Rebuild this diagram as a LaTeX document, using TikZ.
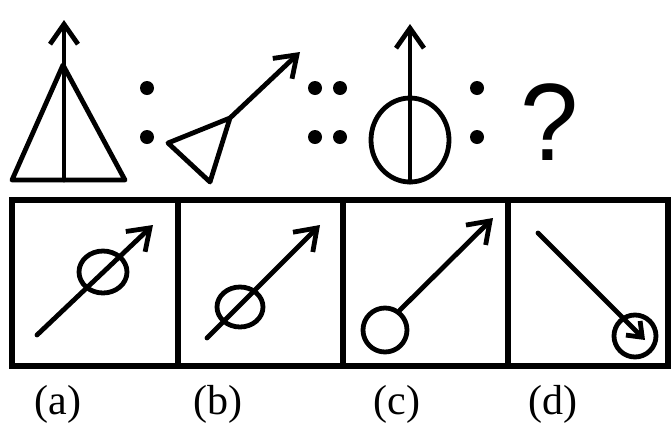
\documentclass[tikz,border=0pt]{standalone}
\usepackage{fontspec}
\setmainfont{Liberation Serif}
\newfontfamily\qfont{Liberation Sans}
\usetikzlibrary{arrows.meta}
\tikzset{
  fig/.style={line width=4.8pt, line join=round, line cap=round},
  arr/.style={fig, -{Straight Barb[length=20pt,width=28pt]}},
  sarr/.style={fig, -{Straight Barb[length=13pt,width=20pt]}},
  dot/.style={fill=black},
  frame/.style={line width=5.2pt},
  lab/.style={font=\fontsize{42}{42}\selectfont, inner sep=0pt},
}
\begin{document}
\begin{tikzpicture}[x=1pt,y=-1pt]
\useasboundingbox (0,0) rectangle (672,432);
% first figure: triangle with vertical arrow
\draw[fig] (12,180) -- (63,65) -- (125,180) -- cycle;
\coordinate (t1b) at (64,180);
\coordinate (t1t) at (64,20);
\draw[arr] (t1b) -- (t1t);
% colon
\fill[dot] (147,88) circle (7pt);
\fill[dot] (147,137) circle (7pt);
% second figure: small triangle with diagonal arrow
\draw[fig] (168,143) -- (210,182) -- (230,118) -- cycle;
\coordinate (t2a) at (230,118);
\coordinate (t2t) at (300,52);
\draw[arr] (t2a) -- (t2t);
% double colon
\fill[dot] (315,88) circle (7pt);
\fill[dot] (315,137) circle (7pt);
\fill[dot] (340,88) circle (7pt);
\fill[dot] (340,137) circle (7pt);
% third figure: circle with vertical arrow
\draw[fig] (410,140) ellipse [x radius=39pt, y radius=42pt];
\coordinate (c3b) at (410,182);
\coordinate (c3t) at (410,24);
\draw[arr] (c3b) -- (c3t);
% colon
\fill[dot] (477,88) circle (7pt);
\fill[dot] (477,137) circle (7pt);
% question mark
\node[inner sep=0pt, xscale=0.95, font=\qfont\fontsize{110}{110}\selectfont] (q) at (550,122) {?};
% answer boxes
\draw[frame] (12,200) rectangle (668,366);
\draw[frame] (178,200) -- (178,366);
\draw[frame] (343,200) -- (343,366);
\draw[frame] (508,200) -- (508,366);
% (a)
\coordinate (a1) at (37,335);
\coordinate (a2) at (153,225);
\draw[arr] (a1) -- (a2);
\draw[fig] (103,272) ellipse [x radius=24pt, y radius=21pt];
% (b)
\coordinate (b1) at (207,338);
\coordinate (b2) at (320,225);
\draw[arr] (b1) -- (b2);
\draw[fig] (240,307) ellipse [x radius=23pt, y radius=20pt];
% (c)
\draw[fig] (385,330) circle (22pt);
\coordinate (c1) at (400,310);
\coordinate (c2) at (493,218);
\draw[arr] (c1) -- (c2);
% (d)
\coordinate (d1) at (538,233);
\coordinate (d2) at (645,340);
\draw[sarr] (d1) -- (d2);
\draw[fig] (635,336) circle (21pt);
% labels
\node[lab] (la) at (58,404) {(a)};
\node[lab] (lb) at (218,404) {(b)};
\node[lab] (lc) at (397,404) {(c)};
\node[lab] (ld) at (553,404) {(d)};
\end{tikzpicture}
\end{document}
